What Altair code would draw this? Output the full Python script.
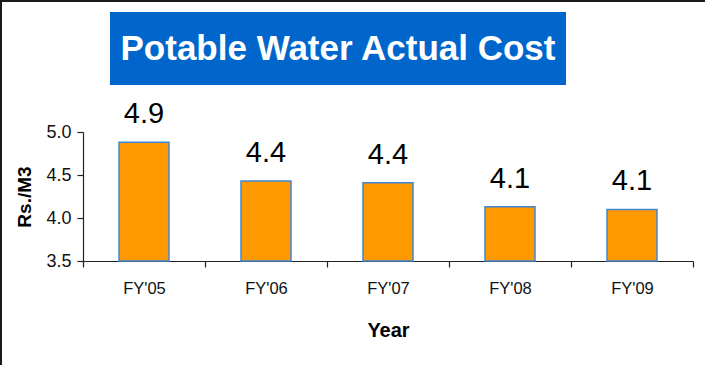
import altair as alt
import pandas as pd

# Chart data
years = ["FY'05", "FY'06", "FY'07", "FY'08", "FY'09"]
cost = [4.88, 4.43, 4.41, 4.13, 4.10]
title_text = "Potable Water Actual Cost"

FONT = "Liberation Sans, Arial, Helvetica, sans-serif"
ORANGE = "#FF9900"
BLUE = "#0066CC"

df = pd.DataFrame({"Year": years, "Cost": cost})
base = alt.Chart(df)

x_enc = alt.X(
    "Year:N",
    sort=years,
    scale=alt.Scale(paddingInner=0, paddingOuter=0),
    axis=alt.Axis(
        title="Year",
        labelAngle=0,
        tickBand="extent",
        tickSize=6,
        labelPadding=13,
        labelFontSize=16.5,
        titleFontSize=20,
        titlePadding=24,
    ),
)
y_scale = alt.Scale(domain=[3.5, 5.0], zero=False, nice=False)

bars = base.mark_bar(size=50, fill=ORANGE, stroke="#3F86D6", strokeWidth=1.5).encode(
    x=x_enc,
    y=alt.Y(
        "Cost:Q",
        scale=y_scale,
        axis=alt.Axis(
            title="Rs./M3",
            values=[3.5, 4.0, 4.5, 5.0],
            format=".1f",
            grid=False,
            tickSize=6,
            labelPadding=6,
            labelFontSize=18,
            titleFontSize=19,
            titlePadding=11,
        ),
    ),
    y2=alt.datum(3.5),
)

labels = base.mark_text(
    font=FONT, fontSize=29, color="#000000", baseline="alphabetic", dy=-19
).encode(
    x=alt.X("Year:N", sort=years),
    y=alt.Y("Cost:Q", scale=y_scale),
    text=alt.Text("Cost:Q", format=".1f"),
)

# Title banner drawn above the plot area
banner_df = pd.DataFrame({"t": [title_text]})
banner_box = alt.Chart(banner_df).mark_rect(fill=BLUE).encode(
    x=alt.value(27), x2=alt.value(483), y=alt.value(-120), y2=alt.value(-47)
)
banner_text = alt.Chart(banner_df).mark_text(
    font=FONT, fontSize=35, fontWeight="bold", color="white",
    align="center", baseline="middle"
).encode(x=alt.value(255), y=alt.value(-83), text="t:N")

# Frame lines along the top and left edges
frame_top = alt.Chart(banner_df).mark_rule(color="#1a1a1a", strokeWidth=2).encode(
    x=alt.value(-83), x2=alt.value(622), y=alt.value(-131)
)
frame_left = alt.Chart(banner_df).mark_rule(color="#1a1a1a", strokeWidth=2).encode(
    x=alt.value(-82), y=alt.value(-132), y2=alt.value(233)
)

chart = (
    alt.layer(bars, labels, banner_box, banner_text, frame_top, frame_left)
    .properties(
        width=610,
        height=129,
        autosize=alt.AutoSizeParams(type="none"),
        padding={"left": 83, "top": 132, "right": 12, "bottom": 104},
        background="white",
    )
    .configure_view(stroke=None)
    .configure_axis(
        domainColor="#222222",
        tickColor="#222222",
        labelColor="#111111",
        titleColor="#000000",
        labelFont=FONT,
        titleFont=FONT,
        titleFontWeight="bold",
        domainWidth=1.2,
        tickWidth=1.2,
    )
)

chart.save("out.html", embed_options={"renderer": "svg", "actions": False})
